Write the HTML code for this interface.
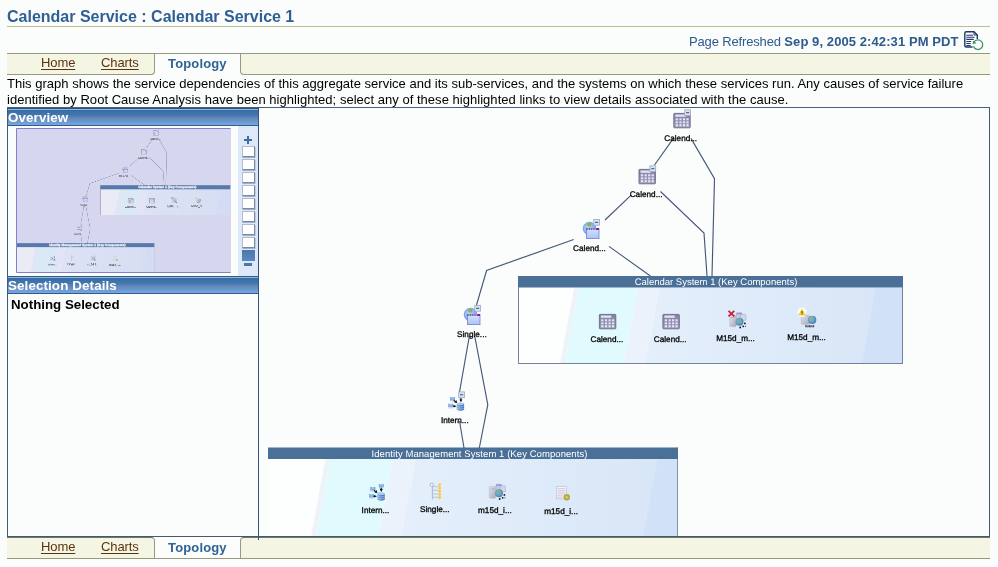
<!DOCTYPE html>
<html><head><meta charset="utf-8"><title>Calendar Service</title>
<style>
html,body{margin:0;padding:0}
body{width:998px;height:567px;overflow:hidden;background:#fafdfc;font-family:"Liberation Sans",sans-serif;position:relative}
.abs{position:absolute}
.t13{font-size:13px;line-height:16px;white-space:nowrap}
.title{left:7px;top:8px;font-weight:bold;font-size:16px;line-height:18px;color:#2f5f93;white-space:nowrap}
.hr{left:7px;top:26px;width:983px;height:1px;background:#bcbc96}
.tabbar{left:7px;width:983px;height:19px;background:#f5f5e3}
.tabL,.tabR{position:absolute;top:0;height:19px;background:#f5f5e3;box-sizing:content-box}
.lnk{color:#5a3410;text-decoration:underline;text-underline-offset:2px;text-decoration-thickness:1px;letter-spacing:-0.1px}
.sel{color:#306296;font-weight:bold;letter-spacing:0.15px}
.phead{left:8px;width:250px;height:17px;background:linear-gradient(#8db8ec 0,#8db8ec 1px,#336ca6 1px,#4575ae 6px,#6389ba 9.5px,#6a9ad2 13px,#7ba6dc 16px,#2f5c98 16px,#2f5c98 17px);color:#fff;font-weight:bold;font-size:13.4px;line-height:17px;white-space:nowrap;letter-spacing:0.1px;text-indent:0}
.lbl{font-size:9px;line-height:11px;color:#000;white-space:nowrap;text-align:center;width:60px;letter-spacing:-0.3px}
.bhead{background:#4a7096;color:#fff;font-size:9.5px;line-height:11px;text-align:center;white-space:nowrap;height:11px}
.zb{left:242px;width:11px;height:9px;background:#fff;border:1px solid #b4bcca;border-right-color:#7a8aa4;border-bottom-color:#7a8aa4;box-shadow:0.5px 1px 0 rgba(110,130,165,0.55)}
</style></head><body><div id="wrap" style="position:absolute;left:0;top:0;width:998px;height:567px;will-change:transform;transform:translateZ(0)">
<div class="abs title">Calendar Service : Calendar Service 1</div>
<div class="abs hr"></div>
<div class="abs t13" style="left:689px;top:34px;color:#2e5a8c"><span style="letter-spacing:-0.150px">Page Refreshed </span><b style="letter-spacing:0.085px">Sep 9, 2005 2:42:31 PM PDT</b></div>
<svg class="abs" style="left:963px;top:31px" width="22" height="20" viewBox="0 0 22 20">
 <path d="M14.300 8V4L11 0.700H3.300Q1.800 0.700 1.800 2.200V14.500Q1.800 16 3.300 16H9.500" fill="#fdfefe" stroke="#23396b" stroke-width="1.400"/>
 <path d="M11 0.700V4H14.300" fill="none" stroke="#23396b" stroke-width="1"/>
 <path d="M3.300 4.300H10M3.300 6.300H11.600M3.300 8.400H10.700M3.300 10.500H8.200M3.300 12.500H7.700M3.300 14.500H7.700" stroke="#23396b" stroke-width="1.100"/>
 <path d="M10.970 10.950A4.800 4.800 0 1 1 10.390 15.340" fill="none" stroke="#3f9767" stroke-width="1.300"/>
 <path d="M9.700 13.100L10 9.700L13.500 12.200z" fill="#2f8f5b"/>
</svg>

<!-- top tabs -->
<div class="abs tabbar" style="top:53px;height:21px;border-top:1px solid #98987a;background:transparent">
  <div class="tabL" style="left:0;width:147px;border-right:1px solid #98987a;border-bottom:1px solid #98987a;border-bottom-right-radius:4px;height:20px"></div>
  <div class="tabR" style="left:233px;width:749px;border-left:1px solid #98987a;border-bottom:1px solid #98987a;border-bottom-left-radius:4px;height:20px"></div>
</div>
<div class="abs t13 lnk" style="left:41px;top:55px">Home</div>
<div class="abs t13 lnk" style="left:101px;top:55px">Charts</div>
<div class="abs t13 sel" style="left:168px;top:56px">Topology</div>

<div class="abs t13" style="left:7px;top:76px;color:#000;letter-spacing:0.01px">This graph shows the service dependencies of this aggregate service and its sub-services, and the systems on which these services run. Any causes of service failure</div>
<div class="abs t13" style="left:7px;top:92px;color:#000;letter-spacing:0.033px">identified by Root Cause Analysis have been highlighted; select any of these highlighted links to view details associated with the cause.</div>

<!-- main frame -->
<div class="abs" style="left:7px;top:107px;width:981px;height:428px;border:1px solid #3f5a80;border-top-color:#4a6080;border-right-color:#445a72;border-bottom-color:#46586a"></div>
<div class="abs" style="left:258px;top:107px;width:1px;height:433px;background:#345380;z-index:5"></div>
<div class="abs" style="left:8px;top:108px;width:250px;height:1px;background:#34506e"></div>
<div class="abs" style="left:8px;top:276px;width:250px;height:1px;background:#3a5878"></div>

<!-- left panel -->
<div class="abs phead" style="top:109px">Overview</div>
<div class="abs" style="left:238px;top:126px;width:20px;height:150px;background:#dde9f8"></div>
<svg class="abs" id="mini" style="left:16px;top:128px" width="215" height="145" viewBox="0 0 215 145">
 <rect width="215" height="145" fill="#d6d6ee"/>
 <g opacity="0.55"><use href="#G" transform="scale(0.3375) translate(-268,-106)"/></g>
 <g transform="scale(0.3375) translate(-268,-106)" opacity="0.8">
  <rect x="518" y="276" width="385" height="11.500" fill="#4b72a8"/>
  <rect x="268" y="447.500" width="410" height="11.500" fill="#4b72a8"/>
  <text x="716" y="285.200" class="bt" style="font-weight:bold;stroke:#fff;stroke-width:0.8px">Calendar System 1 (Key Components)</text>
  <text x="479.500" y="456.700" class="bt" style="font-weight:bold;stroke:#fff;stroke-width:0.8px">Identity Management System 1 (Key Components)</text>
 </g>
 <path d="M214.500 0.500H0.500V144.500H214.500" fill="none" stroke="#7e82c6" stroke-width="1"/>
</svg>
<svg class="abs" style="left:243px;top:135px" width="10" height="10"><path d="M5 1v8M1 5h8" stroke="#3f6ea6" stroke-width="2"/></svg>
<div class="abs zb" style="top:146px"></div>
<div class="abs zb" style="top:159px"></div>
<div class="abs zb" style="top:172px"></div>
<div class="abs zb" style="top:185px"></div>
<div class="abs zb" style="top:198px"></div>
<div class="abs zb" style="top:211px"></div>
<div class="abs zb" style="top:224px"></div>
<div class="abs zb" style="top:237px"></div>
<div class="abs" style="left:242px;top:250px;width:13px;height:11px;background:linear-gradient(#4a78ae,#5a88be)"></div>
<div class="abs" style="left:244px;top:263px;width:8px;height:3px;background:#4a78ae"></div>
<div class="abs phead" style="top:277px">Selection Details</div>
<div class="abs t13" style="left:11px;top:297px;font-weight:bold;color:#000;font-size:13.3px">Nothing Selected</div>

<!-- graph -->
<svg class="abs" style="left:0;top:0" width="998" height="567" viewBox="0 0 998 567">
<defs>
<style>
.ln{fill:none;stroke:#46587a;stroke-width:1.150}
.nl{font-family:"Liberation Sans",sans-serif;font-size:8.2px;fill:#000;stroke:#000;stroke-width:0.3px;text-anchor:middle;text-rendering:geometricPrecision}
.bt{font-family:"Liberation Sans",sans-serif;font-size:9.5px;fill:#fff;text-anchor:middle;text-rendering:geometricPrecision}
</style>
<clipPath id="gclip"><rect x="259" y="109" width="729" height="427"/></clipPath>
<linearGradient id="bandg" x1="0" y1="0" x2="1" y2="0"><stop offset="0" stop-color="#e4effb"/><stop offset="1" stop-color="#d8e6f7"/></linearGradient>
<linearGradient id="calg" x1="0" y1="0" x2="0" y2="1"><stop offset="0" stop-color="#8282a1"/><stop offset="1" stop-color="#9e9eba"/></linearGradient>
<linearGradient id="wing" x1="0" y1="0" x2="0" y2="1"><stop offset="0" stop-color="#d4e2ff"/><stop offset="1" stop-color="#a9c6f6"/></linearGradient>
<radialGradient id="glob" cx="0.4" cy="0.4" r="0.7"><stop offset="0" stop-color="#b8d4fa"/><stop offset="1" stop-color="#6c9ce8"/></radialGradient>
<radialGradient id="glob2" cx="0.4" cy="0.4" r="0.7"><stop offset="0" stop-color="#8fc0ee"/><stop offset="1" stop-color="#3b74b8"/></radialGradient>
<linearGradient id="srv" x1="0" y1="0" x2="1" y2="1"><stop offset="0" stop-color="#e4e4ec"/><stop offset="1" stop-color="#a8a8b8"/></linearGradient>
<linearGradient id="dbg" x1="0" y1="0" x2="1" y2="0"><stop offset="0" stop-color="#8db4e4"/><stop offset="0.5" stop-color="#5a8ccc"/><stop offset="1" stop-color="#3f6cae"/></linearGradient>

<g id="badge"><rect x="0.4" y="0.4" width="5.8" height="5.8" fill="#d6e4f8" stroke="#9aa8c0" stroke-width="0.8"/><rect x="1.700" y="2.800" width="3.200" height="1" fill="#3c4c6c"/></g>

<symbol id="cal" width="18" height="16" viewBox="0 0 18 16" overflow="visible">
 <rect x="0.4" y="0.4" width="16.400" height="14.400" rx="0.600" fill="url(#calg)" stroke="#6a6a85" stroke-width="0.9"/>
 <rect x="1.900" y="1.500" width="10.300" height="2.300" fill="#e2e2f4"/>
 <g fill="#e6e6fb">
 <rect x="2.300" y="5.300" width="2.200" height="2"/><rect x="6" y="5.300" width="2.100" height="2"/><rect x="9.500" y="5.300" width="2.200" height="2"/><rect x="13" y="5.300" width="2.200" height="2"/>
 <rect x="2.300" y="8.400" width="2.200" height="1.800"/><rect x="6" y="8.400" width="2.100" height="1.800"/><rect x="9.500" y="8.400" width="2.200" height="1.800"/><rect x="13" y="8.400" width="2.200" height="1.800"/>
 <rect x="2.300" y="11.200" width="2.200" height="2.100"/><rect x="6" y="11.200" width="2.100" height="2.100"/><rect x="9.500" y="11.200" width="2.200" height="2.100"/><rect x="13" y="11.200" width="2.200" height="2.100"/>
 </g>
</symbol>
<symbol id="calb" width="18" height="20" viewBox="0 0 18 20" overflow="visible">
 <use href="#cal" x="0" y="3.600"/>
 <use href="#badge" x="10.900" y="0"/>
</symbol>
<symbol id="svc" width="18" height="21" viewBox="0 0 18 21" overflow="visible">
 <circle cx="6.500" cy="9.500" r="6.300" fill="url(#glob)" stroke="#6088d8" stroke-width="0.700"/>
 <path d="M3.500 5.800q2-2.800 5.200-1.800l-1.300 3.700-2.200-.4z" fill="#84b848"/>
 <rect x="3.400" y="9.400" width="12.600" height="10.200" fill="url(#wing)" stroke="#7a7ed0" stroke-width="0.800"/>
 <rect x="3.400" y="9.200" width="12.600" height="1.800" fill="#6a48b0"/>
 <rect x="13.800" y="9.200" width="2.200" height="1.800" fill="#8a1898"/>
 <path d="M4.500 10.100h8.500" stroke="#fff" stroke-width="0.900" stroke-dasharray="1.500 0.800"/>
 <use href="#badge" x="10.300" y="0"/>
</symbol>
<g id="pc"><rect x="0.200" y="0.200" width="4.600" height="2.900" fill="#86b0e6" stroke="#6a98da" stroke-width="0.400"/><rect x="1.300" y="0.500" width="2.200" height="0.900" fill="#c2daf8"/><path d="M0.400 4.100h4.200" stroke="#a4acbc" stroke-width="0.600"/></g>
<g id="db"><path d="M0 1.500v6q3.700 2.200 7.400 0v-6z" fill="url(#dbg)"/><ellipse cx="3.700" cy="1.500" rx="3.700" ry="1.400" fill="#a9c8ee"/><path d="M0.300 4q3.400 1.800 6.800 0M0.300 6q3.400 1.800 6.800 0" stroke="#b9d2f2" stroke-width="0.600" fill="none"/></g>
<symbol id="ias" width="18" height="20" viewBox="0 0 18 20" overflow="visible">
 <use href="#badge" x="10.300" y="0"/>
 <use href="#pc" x="2" y="5.500"/>
 <use href="#pc" x="0.200" y="12.300"/>
 <use href="#db" x="8.700" y="10.800"/>
 <path d="M12.900 6.600v2M5.800 8.700l1.800 1.600M5 14.650h1.500" stroke="#111" stroke-width="1.100"/>
 <path d="M11.350 7.900h3.100l-1.550 2.800zM8.400 8.500l.8 2.900-3-.5zM5.800 13.400l2.800 1.250-2.800 1.250z" fill="#111"/>
</symbol>
<symbol id="ias2" width="18" height="18" viewBox="0 0 18 18" overflow="visible">
 <use href="#pc" x="9.800" y="0"/>
 <use href="#pc" x="1.300" y="3"/>
 <use href="#pc" x="0" y="10"/>
 <use href="#db" x="8.300" y="8.200"/>
 <path d="M12.250 3.800v2M5 6.200l1.800 1.600M4.500 12.350h1.500" stroke="#111" stroke-width="1.100"/>
 <path d="M10.700 5.100h3.100l-1.550 2.900zM7.600 6l.8 2.900-3-.5zM5.200 11.100l2.800 1.250-2.800 1.250z" fill="#111"/>
</symbol>
<symbol id="key" width="14" height="18" viewBox="0 0 14 18" overflow="visible">
 <circle cx="2.800" cy="2.200" r="1.700" fill="#f4f6fa" stroke="#a8b0c4" stroke-width="0.900"/>
 <path d="M3.400 3.800v13.300" stroke="#b4bcd0" stroke-width="1.100"/>
 <path d="M3.400 4.200h6M3.400 7.700h6M3.400 11.500h6M3.400 14.700h6" stroke="#a9b9d9" stroke-width="0.800"/>
 <g fill="#f9c04c" stroke="#fbe0a0" stroke-width="0.500"><circle cx="10.600" cy="2.300" r="1.500"/><circle cx="10.600" cy="5.500" r="1.500"/><circle cx="10.600" cy="8.700" r="1.500"/><circle cx="10.600" cy="11.900" r="1.500"/><circle cx="10.600" cy="15.100" r="1.500"/></g>
</symbol>
<g id="clbody">
 <rect x="7" y="0.300" width="5.500" height="6.500" rx="0.600" fill="#c9c9ea" stroke="#a3a3d4" stroke-width="0.500"/>
 <rect x="11" y="1.800" width="5.500" height="6" rx="0.600" fill="#d4d4ee" stroke="#a3a3d4" stroke-width="0.500"/>
 <rect x="7" y="0.300" width="5.500" height="1.600" fill="#9a9ad2"/>
 <rect x="0.300" y="2.500" width="6.300" height="11.700" rx="0.800" fill="url(#srv)" stroke="#b4b4c4" stroke-width="0.500"/>
 <path d="M1.200 5h4.500" stroke="#a0a0b4" stroke-width="0.600"/>
 <circle cx="10" cy="9.200" r="4" fill="url(#glob2)"/>
 <path d="M8 7q1.500-1.800 3.200-1l-.6 2.400-1.400 1.800-1-.8zM11.500 9.500l1.500.5-.8 2z" fill="#79b861"/>
 <g fill="#111"><circle cx="15.400" cy="10.900" r="0.900"/><circle cx="13.700" cy="13.800" r="0.900"/><circle cx="10.700" cy="15" r="0.900"/><circle cx="15.900" cy="13.700" r="0.500"/></g>
</g>
<symbol id="cl" width="18" height="18" viewBox="0 0 18 18" overflow="visible"><use href="#clbody"/></symbol>
<symbol id="clx" width="20" height="20" viewBox="0 0 20 20" overflow="visible">
 <use href="#clbody" x="2" y="2.500"/>
 <path d="M1 0.800l5.800 5.600M6.800 0.800l-5.800 5.600" stroke="#cf2436" stroke-width="1.800"/>
</symbol>
<symbol id="hostw" width="20" height="21" viewBox="0 0 20 21" overflow="visible">
 <path d="M4.500 7.500h7.500v8.500h-6z" fill="url(#srv)"/>
 <rect x="4.300" y="7.300" width="8" height="9" rx="1" fill="url(#srv)" stroke="#b0b0c0" stroke-width="0.500"/>
 <circle cx="15.200" cy="11.900" r="4.100" fill="url(#glob2)"/>
 <path d="M13.500 9.500q1.500-1.800 3-1l-.6 2.400-.4 3.500-1.200-1.500z" fill="#79c061"/>
 <rect x="8.200" y="17" width="9" height="2.300" rx="0.500" fill="#50505c"/>
 <rect x="9.300" y="17.400" width="2.800" height="1" fill="#c4c4d0"/><rect x="13.400" y="17.400" width="2.800" height="1" fill="#c4c4d0"/>
 <circle cx="5" cy="4.300" r="4.500" fill="#fffef6"/>
 <path d="M5 1.200l3.300 5.800h-6.600z" fill="#f3d321" stroke="#e9c416" stroke-width="0.500" stroke-linejoin="round"/>
 <path d="M5 3v2.200M5 5.800v0.800" stroke="#222" stroke-width="0.900"/>
</symbol>
<symbol id="doc" width="16" height="16" viewBox="0 0 16 16" overflow="visible">
 <rect x="0.300" y="0.300" width="10.200" height="12.200" fill="#f4f4fa" stroke="#b8b8cc" stroke-width="0.600"/>
 <path d="M1.500 2.200h7.800M1.500 4h7.800M1.500 5.800h7.800M1.500 7.600h7.800M1.500 9.400h6M1.500 11.200h5" stroke="#c4c4d8" stroke-width="0.800"/>
 <circle cx="10.800" cy="10.800" r="3.200" fill="#b5a442"/>
 <circle cx="10.800" cy="10.800" r="1.600" fill="#d2c468"/>
</symbol>
</defs>
<g id="G" clip-path="url(#gclip)">
<!--GSTART-->
<clipPath id="cpa"><rect x="518" y="287.5" width="385" height="76.5"/></clipPath>
<rect x="518" y="287.5" width="385" height="76.5" fill="#fdfefe"/>
<g clip-path="url(#cpa)"><polygon points="574.2,287.5 578.8,287.5 564.7,364.0 560.1,364.0" fill="#f0f2fa" /><polygon points="578.8,287.5 638.1,287.5 624.0,364.0 564.7,364.0" fill="#e1fafe" /><polygon points="638.1,287.5 659.3,287.5 645.1,364.0 624.0,364.0" fill="#ebf2fb" /><polygon points="659.3,287.5 879.9,287.5 865.7,364.0 645.1,364.0" fill="url(#bandg)" /><polygon points="876.0,287.5 980.0,287.5 965.8,364.0 861.9,364.0" fill="#d1e2f8" /></g>
<rect x="518.5" y="276.5" width="384" height="87" fill="none" stroke="#73839b" stroke-width="1"/>
<rect x="518" y="276" width="385" height="11.5" fill="#4b7097"/>
<text x="716.0" y="285.2" class="bt">Calendar System 1 (Key Components)</text>

<clipPath id="cpb"><rect x="268" y="459.0" width="410" height="78.5"/></clipPath>
<rect x="268" y="459.0" width="410" height="78.5" fill="#fdfefe"/>
<g clip-path="url(#cpb)"><polygon points="325.4,459.0 330.3,459.0 315.8,537.5 310.9,537.5" fill="#f0f2fa" /><polygon points="330.3,459.0 392.6,459.0 378.1,537.5 315.8,537.5" fill="#e1fafe" /><polygon points="392.6,459.0 415.6,459.0 401.1,537.5 378.1,537.5" fill="#ebf2fb" /><polygon points="415.6,459.0 661.6,459.0 647.1,537.5 401.1,537.5" fill="url(#bandg)" /><polygon points="657.5,459.0 760.0,459.0 745.5,537.5 643.0,537.5" fill="#d1e2f8" /></g>
<path d="M677.5 447.5 V537.5" fill="none" stroke="#8393a8" stroke-width="1"/>
<rect x="268" y="447.5" width="410" height="11.5" fill="#4b7097"/>
<text x="479.5" y="456.7" class="bt" style="letter-spacing:0.07px">Identity Management System 1 (Key Components)</text>

<polyline class="ln" points="673.4,138.4 654.5,165"/>
<polyline class="ln" points="691,138.4 714.5,178.6 712,276"/>
<polyline class="ln" points="631.4,194.8 605,220"/>
<polyline class="ln" points="660.5,191.5 704,233 707,276"/>
<polyline class="ln" points="573.7,239.5 486.6,270.5 476.5,305"/>
<polyline class="ln" points="609,246.4 650.4,276"/>
<polyline class="ln" points="469.4,336 459.5,392"/>
<polyline class="ln" points="474.7,336 487.8,404.7 479.3,448"/>
<polyline class="ln" points="459.5,421 464,448"/>
<use href="#calb" x="673.4" y="109.4"/>
<use href="#calb" x="638.6" y="165.4"/>
<use href="#svc" x="583" y="219"/>
<use href="#svc" x="464" y="305"/>
<use href="#ias" x="448" y="391.5"/>
<use href="#cal" x="599" y="314"/>
<use href="#cal" x="662.5" y="314"/>
<use href="#clx" x="727.5" y="310"/>
<use href="#hostw" x="797" y="308"/>
<use href="#ias2" x="369" y="484"/>
<use href="#key" x="429" y="482.5"/>
<use href="#cl" x="489" y="484"/>
<use href="#doc" x="556" y="486.4"/>
<text class="nl" x="680.7" y="140.7">Calend...</text>
<text class="nl" x="646.1" y="196.8">Calend...</text>
<text class="nl" x="589.5" y="250.7">Calend...</text>
<text class="nl" x="471.9" y="337">Single...</text>
<text class="nl" x="454.8" y="423">Intern...</text>
<text class="nl" x="606.9" y="342.2">Calend...</text>
<text class="nl" x="670.2" y="342.2">Calend...</text>
<text class="nl" x="735.5" y="341.3">M15d_m...</text>
<text class="nl" x="806.5" y="340.2">M15d_m...</text>
<text class="nl" x="375.5" y="512.8">Intern...</text>
<text class="nl" x="434.8" y="511.6">Single...</text>
<text class="nl" x="494.9" y="513.3">m15d_i...</text>
<text class="nl" x="561.1" y="514">m15d_i...</text>
<!--GEND-->
</g>
</svg>

<!-- bottom tabs -->
<div class="abs tabbar" style="top:537px;height:21px;border-bottom:1px solid #98987a;background:transparent">
  <div class="tabL" style="left:0;width:147px;height:20px;border-top:1px solid #6c7a6c;border-right:1px solid #98987a;border-top-right-radius:4px"></div>
  <div class="tabR" style="left:233px;width:749px;height:20px;border-top:1px solid #6c7a6c;border-left:1px solid #98987a;border-top-left-radius:4px"></div>
</div>
<div class="abs t13 lnk" style="left:41px;top:539px">Home</div>
<div class="abs t13 lnk" style="left:101px;top:539px">Charts</div>
<div class="abs t13 sel" style="left:168px;top:540px">Topology</div>
</div></body></html>
